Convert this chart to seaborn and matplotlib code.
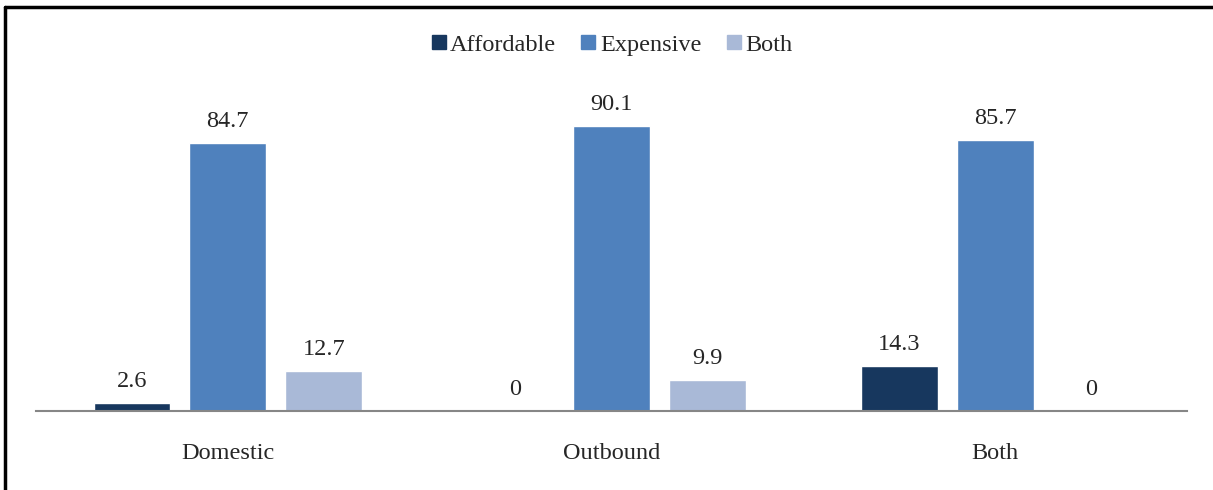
import matplotlib
matplotlib.use("Agg")
import matplotlib.pyplot as plt
from matplotlib.lines import Line2D
import seaborn as sns
import pandas as pd

categories = ["Domestic", "Outbound", "Both"]
series = ["Affordable", "Expensive", "Both"]
affordable = [2.6, 0, 14.3]
expensive = [84.7, 90.1, 85.7]
both = [12.7, 9.9, 0]
colors = ["#17375E", "#4F81BD", "#A9B9D7"]

rows = []
for s, vals in zip(series, [affordable, expensive, both]):
    for c, v in zip(categories, vals):
        rows.append({"category": c, "series": s, "value": v})
df = pd.DataFrame(rows)

sns.set_style("white")
plt.rcParams["font.family"] = ["Liberation Serif", "DejaVu Serif"]
FS = 17.5

fig = plt.figure(figsize=(12.13, 4.9), dpi=100)
ax = fig.add_axes([36 / 1213, 79 / 490, 1151 / 1213, 316 / 490])

sns.barplot(data=df, x="category", y="value", hue="series", order=categories,
            hue_order=series, palette=colors, width=0.75, gap=0.2,
            saturation=1, ax=ax, legend=False)

ax.set_xlim(-0.5, 2.5)
ax.set_ylim(0, 100)
ax.set_xlabel("")
ax.set_ylabel("")
ax.set_yticks([])
ax.tick_params(axis="x", length=0, pad=23, labelsize=FS)
for side in ["top", "right", "left"]:
    ax.spines[side].set_visible(False)
ax.spines["bottom"].set_color("#868686")
ax.spines["bottom"].set_linewidth(1.5)

for container in ax.containers:
    ax.bar_label(container, labels=[f"{v:g}" for v in container.datavalues],
                 padding=8, fontsize=FS)

handles = [Line2D([], [], marker="s", linestyle="none", markersize=9.5,
                  markerfacecolor=c, markeredgecolor=c) for c in colors]
fig.legend(handles, series, loc="center", bbox_to_anchor=(612 / 1213, 1 - 45 / 490),
           ncol=3, frameon=False, fontsize=FS, handletextpad=0.2,
           columnspacing=1.05, handlelength=0.55)

# outer frame (top and left edges)
fig.add_artist(Line2D([5 / 1213, 1], [1 - 7 / 490, 1 - 7 / 490], color="black",
                      linewidth=2.5, transform=fig.transFigure))
fig.add_artist(Line2D([5 / 1213, 5 / 1213], [0, 1 - 7 / 490], color="black",
                      linewidth=2.5, transform=fig.transFigure))

fig.savefig("out.png", dpi=100)
